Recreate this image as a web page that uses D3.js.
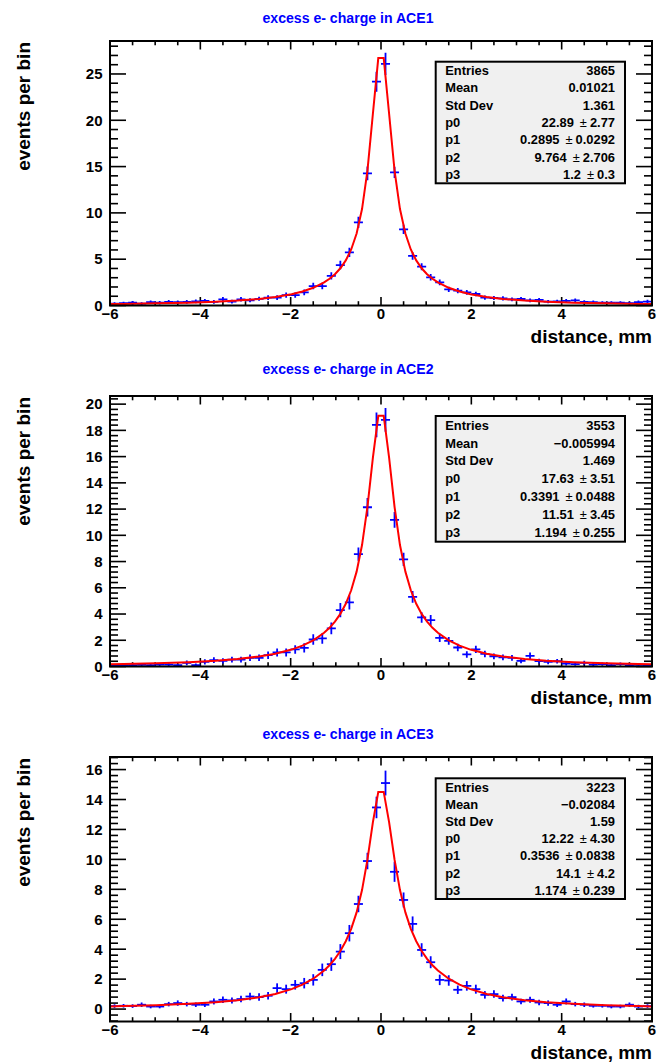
<!DOCTYPE html>
<html><head><meta charset="utf-8">
<script src="https://cdn.jsdelivr.net/npm/d3@7"></script>
<style>
body{margin:0;background:#fff;}
svg text{font-family:"Liberation Sans",Arial,Helvetica,sans-serif;font-weight:bold;}
</style></head>
<body><svg id="c" width="657" height="1063"></svg>
<script>
// ---------- data ----------
const binCenters = [-5.9,-5.7,-5.5,-5.3,-5.1,-4.9,-4.7,-4.5,-4.3,-4.1,-3.9,-3.7,-3.5,-3.3,-3.1,-2.9,-2.7,-2.5,-2.3,-2.1,-1.9,-1.7,-1.5,-1.3,-1.1,-0.9,-0.7,-0.5,-0.3,-0.1,
  0.1,0.3,0.5,0.7,0.9,1.1,1.3,1.5,1.7,1.9,2.1,2.3,2.5,2.7,2.9,3.1,3.3,3.5,3.7,3.9,4.1,4.3,4.5,4.7,4.9,5.1,5.3,5.5,5.7,5.9];
const binWidth = 0.2;

const values1 = [0.2,0.25,0.3,0.2,0.35,0.3,0.4,0.35,0.4,0.45,0.5,0.4,0.67,0.41,0.67,0.56,0.72,0.85,0.85,1.13,1.13,1.42,2.1,2.1,3.2,4.37,5.74,8.98,14.27,24.17,
  26.08,14.38,8.23,5.35,4.19,3.04,2.5,1.75,1.6,1.42,1.24,0.85,0.81,0.77,0.67,0.7,0.56,0.6,0.42,0.45,0.5,0.55,0.4,0.35,0.3,0.3,0.3,0.25,0.35,0.42];
const errors1 = [0.15,0.15,0.18,0.15,0.18,0.18,0.2,0.18,0.2,0.2,0.2,0.2,0.25,0.2,0.25,0.22,0.22,0.25,0.25,0.28,0.28,0.3,0.35,0.35,0.4,0.45,0.5,0.6,0.75,1.08,
  1.2,0.6,0.5,0.4,0.38,0.35,0.3,0.28,0.28,0.25,0.25,0.22,0.22,0.22,0.2,0.22,0.2,0.2,0.18,0.18,0.2,0.2,0.18,0.18,0.15,0.15,0.15,0.15,0.18,0.2];

const values2 = [0.08,0.1,0.1,0.12,0.1,0.15,0.15,0.1,0.28,0.1,0.35,0.48,0.43,0.53,0.53,0.66,0.66,0.86,1.07,1.07,1.3,1.42,2.06,2.14,2.9,4.3,4.89,8.57,12.14,18.42,
  18.8,11.17,8.17,5.31,3.74,3.53,2.18,1.95,1.45,0.92,1.3,0.96,0.78,0.69,0.66,0.43,0.81,0.41,0.36,0.4,0.23,0.18,0.28,0.15,0.18,0.1,0.18,0.1,0.12,0.1];
const errors2 = [0.1,0.1,0.1,0.12,0.1,0.12,0.12,0.1,0.18,0.12,0.2,0.22,0.2,0.22,0.22,0.25,0.25,0.28,0.3,0.3,0.32,0.35,0.4,0.4,0.45,0.55,0.55,0.5,0.7,0.95,
  0.9,0.6,0.5,0.45,0.4,0.4,0.32,0.3,0.28,0.25,0.28,0.25,0.22,0.22,0.22,0.18,0.25,0.18,0.18,0.18,0.15,0.12,0.15,0.12,0.12,0.1,0.12,0.1,0.1,0.1];

const values3 = [0.2,0.22,0.2,0.29,0.17,0.17,0.33,0.4,0.33,0.29,0.29,0.51,0.62,0.58,0.67,0.84,0.8,0.89,1.4,1.33,1.62,1.73,1.95,2.62,3.0,3.84,5.07,7.02,9.89,13.47,
  15.1,9.17,7.29,5.69,3.95,3.13,1.95,1.91,1.29,1.55,1.33,0.95,1.0,0.73,0.8,0.51,0.62,0.44,0.4,0.29,0.51,0.33,0.29,0.22,0.22,0.17,0.17,0.29,0.17,0.2];
const errors3 = [0.12,0.12,0.12,0.15,0.12,0.12,0.15,0.18,0.15,0.15,0.15,0.2,0.22,0.2,0.22,0.25,0.25,0.25,0.32,0.3,0.32,0.35,0.38,0.42,0.45,0.5,0.55,0.55,0.55,0.72,
  0.83,0.67,0.5,0.5,0.45,0.4,0.35,0.35,0.28,0.32,0.3,0.25,0.25,0.22,0.22,0.18,0.2,0.18,0.18,0.15,0.2,0.15,0.15,0.12,0.12,0.12,0.12,0.15,0.12,0.12];

// fit curves (values read at these x positions)
const fitX = [-6,-5.7,-4.98,-4.26,-3.66,-3.18,-2.7,-2.34,-1.98,-1.74,-1.5,-1.26,-1.14,-1.02,-0.9,-0.78,-0.66,-0.54,-0.42,-0.3,-0.18,-0.06,
  0.06,0.18,0.3,0.42,0.54,0.66,0.78,0.9,1.02,1.14,1.26,1.5,1.74,1.98,2.34,2.7,3.18,3.66,4.26,4.98,5.7,6];
const fitY1 = [0.16,0.17,0.23,0.31,0.41,0.53,0.71,0.92,1.22,1.51,1.91,2.49,2.89,3.38,4.02,4.87,6.05,7.77,10.41,14.57,20.68,26.72,
  26.72,20.68,14.57,10.41,7.77,6.05,4.87,4.02,3.38,2.89,2.49,1.91,1.51,1.22,0.92,0.71,0.53,0.41,0.31,0.23,0.17,0.16];
const fitY2 = [0.17,0.19,0.24,0.33,0.44,0.57,0.76,0.97,1.29,1.59,1.99,2.57,2.95,3.42,4.01,4.78,5.81,7.23,9.26,12.17,15.91,19.11,
  19.11,15.91,12.17,9.26,7.23,5.81,4.78,4.01,3.42,2.95,2.57,1.99,1.59,1.29,0.97,0.76,0.57,0.44,0.33,0.24,0.19,0.17];
const fitY3 = [0.18,0.2,0.26,0.35,0.46,0.59,0.79,1.01,1.33,1.63,2.03,2.58,2.93,3.36,3.88,4.53,5.36,6.46,7.95,9.98,12.47,14.51,
  14.51,12.47,9.98,7.95,6.46,5.36,4.53,3.88,3.36,2.93,2.58,2.03,1.63,1.33,1.01,0.79,0.59,0.46,0.35,0.26,0.2,0.18];

const titles = ["excess e- charge in ACE1","excess e- charge in ACE2","excess e- charge in ACE3"];
const statLabels = ["Entries","Mean","Std Dev","p0","p1","p2","p3"];
const statValues1 = ["3865","0.01021","1.361","22.89","0.2895","9.764","1.2"];
const statErrors1 = [null,null,null,"2.77","0.0292","2.706","0.3"];
const statValues2 = ["3553","\u22120.005994","1.469","17.63","0.3391","11.51","1.194"];
const statErrors2 = [null,null,null,"3.51","0.0488","3.45","0.255"];
const statValues3 = ["3223","\u22120.02084","1.59","12.22","0.3536","14.1","1.174"];
const statErrors3 = [null,null,null,"4.30","0.0838","4.2","0.239"];

const xTicks = [-6,-4,-2,0,2,4,6];
const yTicks1 = [0,5,10,15,20,25];
const yTicks2 = [0,2,4,6,8,10,12,14,16,18,20];
const yTicks3 = [0,2,4,6,8,10,12,14,16];
const xTitle = "distance, mm";
const yTitle = "events per bin";

// ---------- layout ----------
const X0 = 110, X1 = 652;
const panels = [
  {title:titles[0], vals:values1, errs:errors1, fit:fitY1, sv:statValues1, se:statErrors1, yt:yTicks1,
   top:41, bot:305.5, ymin:0, ymax:28.56, minorStep:1, titleY:23, boxTop:61.7, boxBot:183.3},
  {title:titles[1], vals:values2, errs:errors2, fit:fitY2, sv:statValues2, se:statErrors2, yt:yTicks2,
   top:396, bot:666.5, ymin:0, ymax:20.62, minorStep:0.4, titleY:374, boxTop:416, boxBot:541.7},
  {title:titles[2], vals:values3, errs:errors3, fit:fitY3, sv:statValues3, se:statErrors3, yt:yTicks3,
   top:757, bot:1021.5, ymin:-0.83, ymax:16.84, minorStep:0.4, titleY:739, boxTop:778.3, boxBot:899}
];

const svg = d3.select("#c");
const x = d3.scaleLinear().domain([-6,6]).range([X0,X1]);
const fmt = d3.format("");

panels.forEach((p,pi)=>{
  const y = d3.scaleLinear().domain([p.ymin,p.ymax]).range([p.bot,p.top]);
  const g = svg.append("g");
  const clipId = "clip"+pi;
  g.append("clipPath").attr("id",clipId).append("rect")
    .attr("x",X0).attr("y",p.top).attr("width",X1-X0).attr("height",p.bot-p.top);

  // title
  g.append("text").attr("x",348).attr("y",p.titleY).attr("text-anchor","middle")
    .attr("font-size",14.1).attr("fill","#0000ff").text(p.title);

  // ticks
  const tk = g.append("g").attr("stroke","#000").attr("stroke-width",1.6);
  const xMinor = d3.range(-6,6.001,0.5);
  xMinor.forEach(v=>{
    const major = xTicks.includes(v);
    const L = major?8.5:4.3;
    tk.append("line").attr("x1",x(v)).attr("x2",x(v)).attr("y1",p.bot).attr("y2",p.bot-L);
    tk.append("line").attr("x1",x(v)).attr("x2",x(v)).attr("y1",p.top).attr("y2",p.top+L);
  });
  const yStart = Math.ceil(p.ymin/p.minorStep-1e-6)*p.minorStep;
  const yMinor = d3.range(yStart, p.ymax+1e-6, p.minorStep);
  yMinor.forEach(v=>{
    const major = p.yt.some(t=>Math.abs(t-v)<1e-6);
    const L = major?16:8;
    tk.append("line").attr("x1",X0).attr("x2",X0+L).attr("y1",y(v)).attr("y2",y(v));
    tk.append("line").attr("x1",X1).attr("x2",X1-L).attr("y1",y(v)).attr("y2",y(v));
  });

  // tick labels
  xTicks.forEach(v=>{
    g.append("text").attr("x",x(v)).attr("y",p.bot+13.8).attr("text-anchor","middle")
      .attr("font-size",15).text(fmt(v));
  });
  p.yt.forEach(v=>{
    g.append("text").attr("x",X0-7.5).attr("y",y(v)+5.3).attr("text-anchor","end")
      .attr("font-size",15).text(fmt(v));
  });

  // axis titles
  g.append("text").attr("x",X1).attr("y",p.bot+37.5).attr("text-anchor","end")
    .attr("font-size",19).text(xTitle);
  g.append("text").attr("transform",`translate(30,${p.top+1}) rotate(-90)`).attr("text-anchor","end")
    .attr("font-size",19).text(yTitle);

  // data points with error bars
  const dg = g.append("g").attr("clip-path",`url(#${clipId})`).attr("stroke","#0000ff").attr("stroke-width",1.8);
  binCenters.forEach((c,i)=>{
    const v = p.vals[i], e = p.errs[i];
    dg.append("line").attr("x1",x(c-binWidth/2)).attr("x2",x(c+binWidth/2)).attr("y1",y(v)).attr("y2",y(v));
    dg.append("line").attr("x1",x(c)).attr("x2",x(c)).attr("y1",y(v-e)).attr("y2",y(v+e));
  });

  // fit curve
  const line = d3.line().x((d,i)=>x(fitX[i])).y(d=>y(d)).curve(d3.curveLinear);
  g.append("path").attr("clip-path",`url(#${clipId})`).attr("d",line(p.fit))
    .attr("fill","none").attr("stroke","#ff0000").attr("stroke-width",2);

  // frame
  g.append("rect").attr("x",X0).attr("y",p.top).attr("width",X1-X0).attr("height",p.bot-p.top)
    .attr("fill","none").attr("stroke","#000").attr("stroke-width",2);

  // stats box
  const bx0 = 435.7, bx1 = 625;
  g.append("rect").attr("x",bx0).attr("y",p.boxTop).attr("width",bx1-bx0).attr("height",p.boxBot-p.boxTop)
    .attr("fill","#f0f0f0").attr("stroke","#000").attr("stroke-width",2);
  const rowH = (p.boxBot-p.boxTop)/statLabels.length;
  statLabels.forEach((lab,i)=>{
    const by = p.boxTop + rowH*(i+0.5) + 4.6;
    g.append("text").attr("x",bx0+9.5).attr("y",by).attr("font-size",12.9).text(lab);
    const t = g.append("text").attr("x",bx1-10).attr("y",by).attr("text-anchor","end").attr("font-size",12.9);
    if (p.se[i]===null) { t.text(p.sv[i]); }
    else {
      t.append("tspan").text(p.sv[i]);
      t.append("tspan").attr("dx",6).attr("font-weight","normal").text("\u00b1");
      t.append("tspan").attr("dx",3).text(p.se[i]);
    }
  });
});
</script></body></html>
